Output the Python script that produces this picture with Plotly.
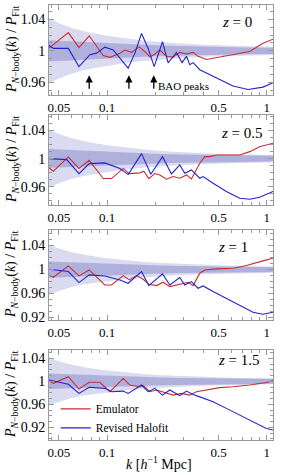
import math
import plotly.graph_objects as go

# ---------------- data ----------------
band_k = [0.0433, 0.05, 0.06, 0.07, 0.08, 0.1, 0.13, 0.17, 0.22, 0.3, 0.4, 0.55, 0.75, 1.093]
outer_half = [0.041, 0.035, 0.029, 0.025, 0.0225, 0.019, 0.0155, 0.0128, 0.0108, 0.009, 0.0076, 0.0066, 0.0058, 0.0052]
inner_half = [0.0135, 0.0128, 0.012, 0.0113, 0.0107, 0.0098, 0.0088, 0.0075, 0.0066, 0.0058, 0.0052, 0.0047, 0.0043, 0.004]

# z = 0
z0_emu_k = [0.0433, 0.0572, 0.0667, 0.0773, 0.0946, 0.1042, 0.1203, 0.1293, 0.1423, 0.1588, 0.1766, 0.1852, 0.1991,
            0.2139, 0.2355, 0.2591, 0.2851, 0.3141, 0.3455, 0.3713, 0.4188, 0.4835, 0.6143, 0.7812, 0.9463, 1.093]
z0_emu = [1.0034, 1.023, 1.004, 1.019, 0.994, 0.9917, 0.997, 1.001, 0.998, 1.005, 0.997, 0.992, 0.996,
          1.001, 0.993, 0.992, 0.998, 0.996, 0.998, 0.993, 0.989, 0.9915, 0.995, 0.999, 1.0096, 1.0146]
z0_hf_k = [0.0433, 0.0461, 0.0572, 0.0667, 0.0781, 0.0860, 0.0969, 0.1092, 0.1355, 0.1493, 0.1643, 0.1808, 0.1972,
           0.2223, 0.2411, 0.2718, 0.2948, 0.3141, 0.3294, 0.3455, 0.3804, 0.4392, 0.5071, 0.6143, 0.7628, 0.9463, 1.093]
z0_hf = [1.0067, 1.003, 1.003, 0.980, 0.995, 0.997, 1.0046, 1.001, 0.978, 0.997, 1.022, 1.003, 0.980,
         1.0117, 0.9846, 0.998, 0.985, 0.993, 0.9825, 0.985, 0.976, 0.970, 0.964, 0.9554, 0.951, 0.954, 0.9596]

# z = 0.5
z05_emu_k = [0.0433, 0.0461, 0.0572, 0.0667, 0.0773, 0.0946, 0.1067, 0.1262, 0.1375, 0.1604, 0.1699, 0.1826, 0.1991,
             0.2139, 0.2355, 0.2591, 0.2851, 0.3141, 0.3373, 0.3804, 0.4088, 0.4392, 0.4835, 0.6762, 0.7812, 0.9020, 1.093]
z05_emu = [0.987, 0.982, 1.0024, 0.986, 0.9976, 0.9716, 0.9716, 0.986, 0.9787, 0.9797, 0.982, 0.9716, 0.9787,
           0.9766, 0.9707, 0.9745, 0.9721, 0.9768, 0.9711, 0.9934, 1.0028, 1.0028, 1.0052, 1.0052, 1.0099, 1.017, 1.0218]
z05_hf_k = [0.0433, 0.0559, 0.0667, 0.0773, 0.0969, 0.1203, 0.1355, 0.1643, 0.1879, 0.2223, 0.2530, 0.2851, 0.3065,
            0.3373, 0.3804, 0.3990, 0.4608, 0.5583, 0.6762, 0.7812, 0.9020, 1.093]
z05_hf = [1.0, 0.9986, 0.9787, 0.9929, 0.9939, 0.986, 0.9773, 1.0071, 0.9778, 1.0028, 0.9782, 0.991, 0.9792,
          0.9839, 0.9721, 0.9745, 0.965, 0.9532, 0.9437, 0.9423, 0.9451, 0.9532]

# z = 1
z1_emu_k = [0.0433, 0.0461, 0.0572, 0.0667, 0.0773, 0.0969, 0.1067, 0.1262, 0.1375, 0.1530, 0.1683, 0.1826, 0.2040,
            0.2244, 0.2470, 0.2851, 0.3216, 0.3455, 0.3804, 0.4088, 0.4835, 0.6143, 0.7444, 0.9463, 1.093]
z1_emu = [0.9911, 0.9872, 1.0061, 0.9894, 0.9994, 0.9744, 0.9744, 0.99, 0.9828, 0.99, 0.9839, 0.9755, 0.9733,
          0.9789, 0.9716, 0.9755, 0.9789, 0.9733, 0.9939, 0.9994, 1.0011, 1.0022, 1.0067, 1.0145, 1.0189]
z1_hf_k = [0.0433, 0.0572, 0.0667, 0.0773, 0.0969, 0.1203, 0.1355, 0.1643, 0.1826, 0.2223, 0.2470, 0.2851, 0.3065,
           0.3373, 0.3713, 0.3990, 0.4608, 0.5583, 0.6762, 0.8193, 0.9463, 1.093]
z1_hf = [1.0006, 0.9967, 0.9783, 0.9911, 0.9894, 0.9828, 0.9772, 0.9967, 0.9733, 0.9928, 0.9744, 0.9867, 0.9744,
         0.98, 0.9689, 0.9728, 0.9633, 0.9522, 0.9411, 0.9288, 0.9255, 0.9288]

# z = 1.5
z15_emu_k = [0.0433, 0.0461, 0.0572, 0.0667, 0.0773, 0.0902, 0.1042, 0.1262, 0.1389, 0.1604, 0.1683, 0.1852, 0.2040,
             0.2355, 0.2591, 0.2921, 0.3294, 0.3625, 0.4188, 0.5071, 0.6143, 0.7812, 0.9929, 1.093]
z15_emu = [1.0006, 0.9965, 1.008, 0.9867, 0.9983, 0.9983, 0.982, 1.005, 0.9936, 0.9907, 0.9925, 0.982, 0.985,
           0.979, 0.976, 0.979, 0.976, 0.982, 0.985, 0.989, 0.9907, 0.9936, 0.998, 1.0012]
z15_hf_k = [0.0433, 0.0572, 0.0667, 0.0773, 0.0969, 0.1067, 0.1262, 0.1355, 0.1643, 0.1808, 0.1991, 0.2223, 0.2470,
            0.2851, 0.3141, 0.3455, 0.3804, 0.4608, 0.5583, 0.6762, 0.8193, 0.9929, 1.093]
z15_hf = [1.0023, 0.9948, 0.979, 0.9896, 0.9878, 0.982, 0.983, 0.979, 0.9936, 0.982, 0.9878, 0.976, 0.985,
          0.975, 0.983, 0.977, 0.973, 0.9646, 0.953, 0.9414, 0.9287, 0.918, 0.9153]

z_labels = ["0", "0.5", "1", "1.5"]
y_ranges = [[0.944, 1.058], [0.934, 1.062], [0.916, 1.066], [0.898, 1.0545]]
y_domains = [[0.7931, 1.0], [0.5402, 0.7471], [0.2759, 0.4828], [0.0, 0.2069]]
y_ticks = [0.92, 0.96, 1.0, 1.04]
y_ticktext = ["0.92", "0.96", "1", "1.04"]
x_ticks = [0.05, 0.1, 0.5, 1.0]
x_ticktext = ["0.05", "0.1", "0.5", "1"]
x_minor = [0.045, 0.06, 0.07, 0.08, 0.09, 0.2, 0.3, 0.4, 0.6, 0.7, 0.8, 0.9]
y_minor = [0.90, 0.91, 0.93, 0.94, 0.95, 0.97, 0.98, 0.99, 1.01, 1.02, 1.03, 1.05, 1.06]
bao_k = [0.0773, 0.137, 0.196]
z_label_pos = [(0.84, 0.81), (0.86, 0.80), (0.82, 0.81), (0.85, 0.89)]

panels = [
    (z0_emu_k, z0_emu, z0_hf_k, z0_hf),
    (z05_emu_k, z05_emu, z05_hf_k, z05_hf),
    (z1_emu_k, z1_emu, z1_hf_k, z1_hf),
    (z15_emu_k, z15_emu, z15_hf_k, z15_hf),
]

RED = "rgb(200,45,50)"
BLUE = "rgb(35,35,205)"
OUTER = "rgb(218,218,240)"
INNER = "rgb(176,176,220)"
FRAME = "#999999"
SERIF = "Liberation Serif, Times New Roman, serif"

fig = go.Figure()
layout = {}
annotations = []

for i, (ek, ev, hk, hv) in enumerate(panels):
    n = i + 1
    xa = "x" if n == 1 else f"x{n}"
    ya = "y" if n == 1 else f"y{n}"
    for half, col in ((outer_half, OUTER), (inner_half, INNER)):
        up = [1 + h for h in half]
        lo = [1 - h for h in half]
        fig.add_trace(go.Scatter(x=band_k + band_k[::-1], y=up + lo[::-1], fill="toself",
                                 fillcolor=col, line=dict(width=0), mode="lines",
                                 hoverinfo="skip", showlegend=False, xaxis=xa, yaxis=ya))
    fig.add_trace(go.Scatter(x=ek, y=ev, mode="lines", line=dict(color=RED, width=1.1),
                             name="Emulator", showlegend=(n == 4), xaxis=xa, yaxis=ya))
    fig.add_trace(go.Scatter(x=hk, y=hv, mode="lines", line=dict(color=BLUE, width=1.1),
                             name="Revised Halofit", showlegend=(n == 4), xaxis=xa, yaxis=ya))

    axis_common = dict(showgrid=False, zeroline=False, showline=True, linecolor=FRAME, linewidth=1,
                       mirror="allticks", ticks="inside", ticklen=5, tickcolor=FRAME)
    layout["xaxis" if n == 1 else f"xaxis{n}"] = dict(
        type="log", range=[math.log10(0.0433), math.log10(1.093)], anchor=ya,
        tickvals=x_ticks, ticktext=x_ticktext, tickfont=dict(family=SERIF, size=13, color="black"),
        minor=dict(tickvals=x_minor, ticks="inside", ticklen=3, tickcolor=FRAME),
        **axis_common)
    layout["yaxis" if n == 1 else f"yaxis{n}"] = dict(
        range=y_ranges[i], domain=y_domains[i], anchor=xa,
        tickvals=y_ticks, ticktext=y_ticktext, tickfont=dict(family=SERIF, size=14, color="black"),
        minor=dict(tickvals=y_minor, ticks="inside", ticklen=3, tickcolor=FRAME),
        **axis_common)

    zx, zy = z_label_pos[i]
    annotations.append(dict(text=f"<i>z</i> = {z_labels[i]}", xref=f"{xa} domain", yref=f"{ya} domain",
                            x=zx, y=zy, xanchor="center", yanchor="middle", showarrow=False,
                            font=dict(family=SERIF, size=15, color="black")))
    annotations.append(dict(text="<i>P</i><sub><i>N</i>−body</sub>(<i>k</i>) / <i>P</i><sub>Fit</sub>",
                            textangle=-90, xref="paper", yref=f"{ya} domain", x=-0.165, y=0.5,
                            xanchor="center", yanchor="middle", showarrow=False,
                            font=dict(family=SERIF, size=14, color="black")))

# BAO arrows in top panel
for kb in bao_k:
    annotations.append(dict(x=math.log10(kb), y=0.969, xref="x", yref="y", text="", showarrow=True,
                            ax=0, ay=15, arrowhead=2, arrowsize=1.1, arrowwidth=1.3, arrowcolor="black",
                            standoff=0))
annotations.append(dict(x=math.log10(0.203), y=0.955, xref="x", yref="y", text="BAO peaks",
                        xanchor="left", yanchor="middle", showarrow=False,
                        font=dict(family=SERIF, size=11, color="black")))
annotations.append(dict(text="<i>k</i> [<i>h</i><sup>−1</sup> Mpc]", xref="paper", yref="paper",
                        x=0.49, y=-0.052, xanchor="center", yanchor="middle", showarrow=False,
                        font=dict(family=SERIF, size=14, color="black")))

fig.update_layout(
    width=299, height=475,
    margin=dict(l=49, r=26, t=5, b=35),
    paper_bgcolor="white", plot_bgcolor="white",
    annotations=annotations,
    legend=dict(x=0.03, y=0.105, xanchor="left", yanchor="top", bgcolor="rgba(0,0,0,0)",
                font=dict(family=SERIF, size=11.5, color="black"), tracegroupgap=0,
                itemwidth=30),
    **layout,
)

fig.write_html("out.html", config={"displayModeBar": False},
               post_script="document.body.style.margin='0px';document.body.style.padding='0px';")
